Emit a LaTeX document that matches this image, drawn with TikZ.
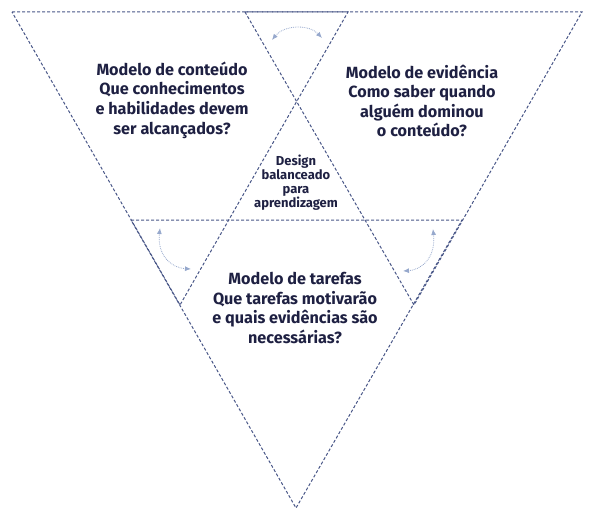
\documentclass[tikz,border=0pt]{standalone}
\usepackage{fontspec}
\setmainfont{Fira Sans}
\usetikzlibrary{arrows.meta}

\begin{document}
\begin{tikzpicture}[x=1pt,y=-1pt,
  tri/.style={draw=edgecol, line width=1pt, dash pattern=on 3pt off 2pt},
  swap/.style={draw=arrcol, line width=0.8pt, densely dotted, {Latex[length=6pt,width=5pt]}-{Latex[length=6pt,width=5pt]}},
  model/.style={text=txtcol, align=center, font=\bfseries\fontsize{16.2}{19.6}\selectfont},
  hub/.style={text=txtcol, align=center, font=\bfseries\fontsize{13}{14}\selectfont}]
% Define colours
\definecolor{edgecol}{RGB}{72,86,135}
\definecolor{arrcol}{RGB}{150,168,204}
\definecolor{txtcol}{RGB}{30,32,66}

\useasboundingbox (0,0) rectangle (592,516);

% Three triangles
\draw[tri] (12,12) -- (348,12) -- (180,305) -- cycle;
\draw[tri] (245,12) -- (582,12) -- (414,305) -- cycle;
\draw[tri] (131,220) -- (462,220) -- (296,508) -- cycle;

% Texts
\node[model] (content) at (172,100) {Modelo de conteúdo\\Que conhecimentos\\e habilidades devem\\ser alcançados?};
\node[model] (evidence) at (422,101) {Modelo de evidência\\Como saber quando\\alguém dominou\\o conteúdo?};
\node[model] (task) at (295,308) {Modelo de tarefas\\Que tarefas motivarão\\e quais evidências são\\necessárias?};
\node[hub] (design) at (296,183) {Design\\balanceado\\para\\aprendizagem};

% Arrow ends
\coordinate (t1) at (272,40);
\coordinate (t2) at (322,38);
\coordinate (l1) at (160,228);
\coordinate (l2) at (191,269);
\coordinate (r1) at (433,229);
\coordinate (r2) at (403,271);

% Curved arrows
\draw[swap] (t1) .. controls (284,25) and (309,24) .. (t2);
\draw[swap] (l1) .. controls (157,256) and (172,268) .. (l2);
\draw[swap] (r1) .. controls (436,258) and (421,270) .. (r2);
\end{tikzpicture}
\end{document}
